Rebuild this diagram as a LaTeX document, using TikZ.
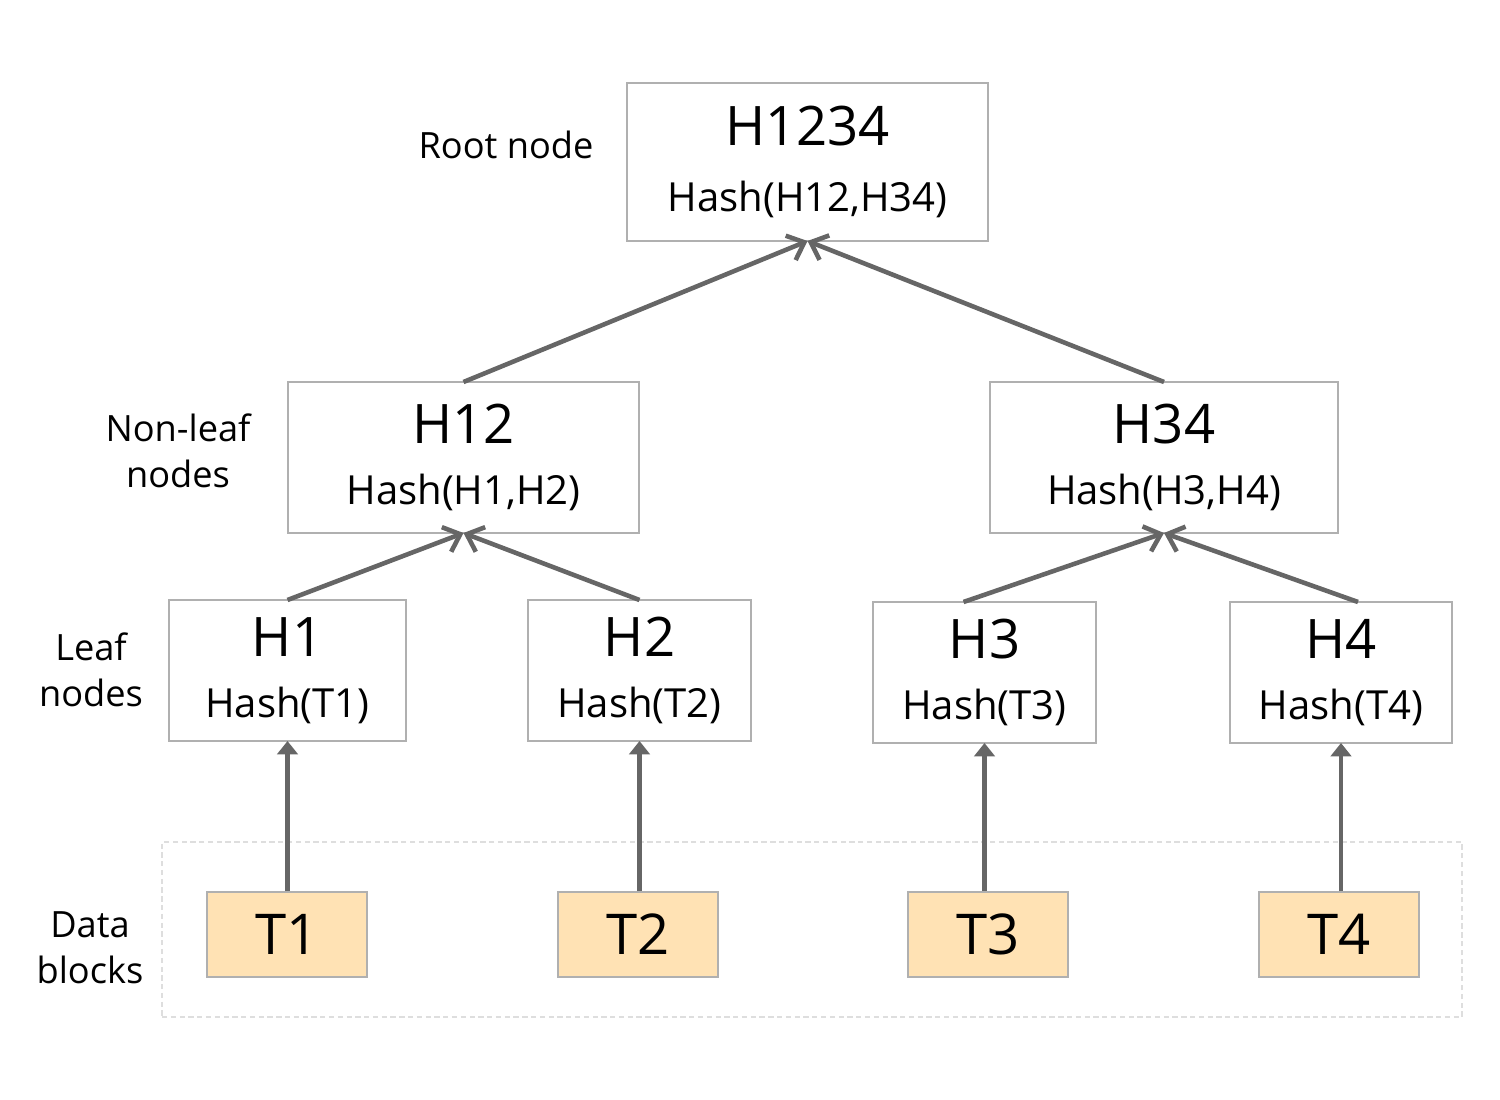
\documentclass[tikz,border=0pt]{standalone}
\usepackage{fontspec}
\setmainfont{Open Sans}
\usetikzlibrary{arrows.meta}
\usetikzlibrary{positioning}
\definecolor{linkgray}{HTML}{666666}
\definecolor{boxgray}{HTML}{B0B0B0}
\definecolor{blockfill}{HTML}{FFE2B4}
\newcommand{\hname}[1]{{\fontsize{15.5}{17.5}\selectfont #1}}

\begin{document}
\begin{tikzpicture}[x=0.1mm,y=-0.1mm]
  % some styles
  \tikzset{
    hashbox/.style 2 args={
      rectangle,
      draw=boxgray,
      line width=0.5pt,
      minimum width=#1,
      minimum height=#2,
      inner sep=0mm,
      outer sep=0mm,
      align=center,
      font=\fontsize{11.4}{17.5}\selectfont
    }
  }
  \tikzset{datablock/.style={rectangle,draw=boxgray,fill=blockfill,line width=0.5pt,minimum width=16mm,minimum height=8.5mm,inner sep=0mm,font=\fontsize{16}{18}\selectfont}}
  \tikzset{tag/.style={align=center,font=\fontsize{10.3}{13}\selectfont}}
  \tikzset{link/.style={draw=linkgray,line width=1.3pt,-{Straight Barb[length=4.2pt,width=7.5pt]}}}
  \tikzset{uplink/.style={draw=linkgray,line width=1.3pt,-{Triangle[length=3.8pt,width=5.8pt]}}}
  \tikzset{blockframe/.style={rectangle,draw=black!13,dash pattern=on 1.5pt off 1pt,line width=0.3pt,minimum width=130mm,minimum height=17.5mm}}

\useasboundingbox (0,0) rectangle (1500,1100);

% tree
\node[hashbox={36.1mm}{15.8mm}] (h1234) at (807.5,162) {\hname{H1234}\\[1.5pt] Hash(H12,H34)};
\node[hashbox={35.1mm}{15.1mm}] (h12) at (463.5,457.5) {\hname{H12}\\ Hash(H1,H2)};
\node[hashbox={34.8mm}{15.1mm}] (h34) at (1164,457.5) {\hname{H34}\\ Hash(H3,H4)};
\node[hashbox={23.7mm}{14.1mm}] (h1) at (287.5,670.5) {\hname{H1}\\ Hash(T1)};
\node[hashbox={22.3mm}{14.1mm}] (h2) at (639.5,670.5) {\hname{H2}\\ Hash(T2)};
\node[hashbox={22.3mm}{14.1mm}] (h3) at (984.5,672.5) {\hname{H3}\\ Hash(T3)};
\node[hashbox={22.2mm}{14.1mm}] (h4) at (1341,672.5) {\hname{H4}\\ Hash(T4)};

% data blocks
\node[blockframe] (data) at (812,929.5) {};
\foreach \n/\x in {1/287,2/638,3/988,4/1339} {
    \node[datablock] (t\n) at (\x,934.5) {T\n};
    \draw[uplink] (t\n.north -| h\n.south) -- (h\n.south);
}

% row labels
\node[tag] (rootlabel) at (506,145) {Root node};
\node[tag] (nonleaflabel) at (178,451) {Non-leaf\\nodes};
\node[tag] (leaflabel) at (91,670) {Leaf\\nodes};
\node[tag] (datalabel) at (90,948) {Data\\blocks};

% hashes going up
\draw[link] (h12.north) -- (h1234.south);
\draw[link] (h34.north) -- (h1234.south);
\draw[link] (h1.north) -- (h12.south);
\draw[link] (h2.north) -- (h12.south);
\draw[link] ([xshift=-2.1mm]h3.north) -- (h34.south);
\draw[link] ([xshift=1.7mm]h4.north) -- (h34.south);

\end{tikzpicture}
\end{document}
